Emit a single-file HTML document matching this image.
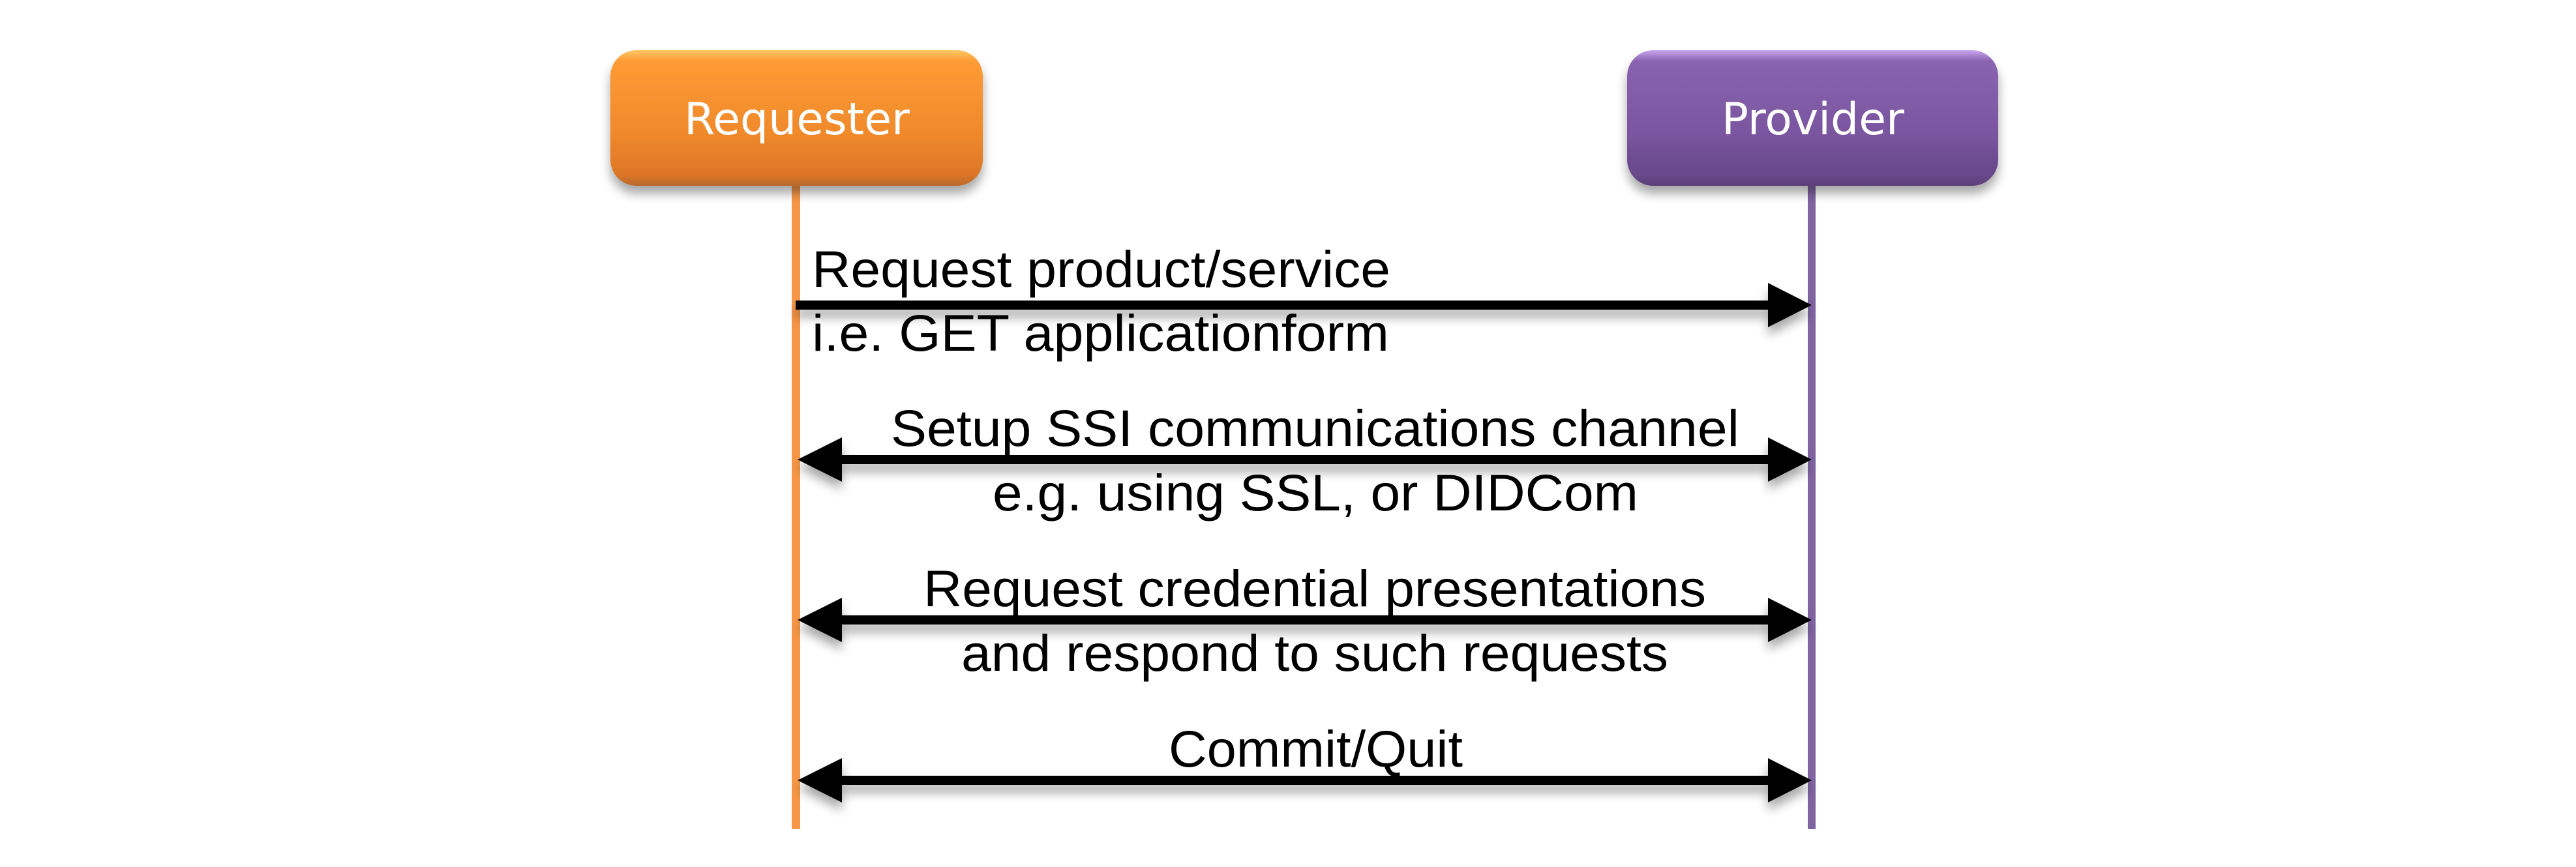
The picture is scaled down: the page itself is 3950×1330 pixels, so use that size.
<!DOCTYPE html>
<html><head><meta charset="utf-8"><style>html,body{margin:0;padding:0;background:#fff}</style></head>
<body>
<svg width="3950" height="1325" viewBox="0 0 3950 1325" xmlns="http://www.w3.org/2000/svg">
<defs>
<linearGradient id="og" x1="0" y1="0" x2="0" y2="1">
<stop offset="0" stop-color="#fbc765"/><stop offset="0.08" stop-color="#fd9b34"/><stop offset="0.6" stop-color="#f08a2c"/><stop offset="0.92" stop-color="#dc7626"/><stop offset="1" stop-color="#b86a30"/></linearGradient>
<linearGradient id="pg" x1="0" y1="0" x2="0" y2="1">
<stop offset="0" stop-color="#c9a6f0"/><stop offset="0.08" stop-color="#8964b0"/><stop offset="0.6" stop-color="#7a569f"/><stop offset="0.92" stop-color="#68488a"/><stop offset="1" stop-color="#5a3f78"/></linearGradient>
<filter id="sh" x="-10%" y="-10%" width="120%" height="140%"><feGaussianBlur in="SourceAlpha" stdDeviation="8"/><feOffset dy="12"/><feComponentTransfer><feFuncA type="linear" slope="0.35"/></feComponentTransfer><feMerge><feMergeNode/><feMergeNode in="SourceGraphic"/></feMerge></filter>
</defs>
<rect x="1214" y="285" width="13" height="987" fill="#f79646"/>
<rect x="2772" y="285" width="12" height="987" fill="#8064a2"/>
<rect x="936" y="77" width="571" height="208" rx="40" fill="url(#og)" filter="url(#sh)"/>
<rect x="2495" y="77" width="569" height="208" rx="40" fill="url(#pg)" filter="url(#sh)"/>
<g font-family="'DejaVu Sans', 'Liberation Sans', sans-serif" font-size="68" fill="#fff" text-anchor="middle">
<text x="1222" y="206">Requester</text>
<text x="2780" y="206">Provider</text>
</g>
<g fill="#000" filter="url(#sh)">
<rect x="1220" y="461" width="1500" height="14"/>
<polygon points="2711,434 2778,468 2711,502"/>
<rect x="1280" y="698" width="1440" height="14"/>
<polygon points="1291,671 1223,705 1291,739"/><polygon points="2711,671 2778,705 2711,739"/>
<rect x="1280" y="944" width="1440" height="14"/>
<polygon points="1291,917 1223,951 1291,985"/><polygon points="2711,917 2778,951 2711,985"/>
<rect x="1280" y="1190" width="1440" height="14"/>
<polygon points="1291,1163 1223,1197 1291,1231"/><polygon points="2711,1163 2778,1197 2711,1231"/>
</g>
<g font-family="'Liberation Sans', Arial, sans-serif" font-size="79" fill="#000" lengthAdjust="spacingAndGlyphs">
<text x="1245" y="440" textLength="887" lengthAdjust="spacingAndGlyphs">Request product/service</text>
<text x="1245" y="538" textLength="885" lengthAdjust="spacingAndGlyphs">i.e. GET applicationform</text>
<text x="1366" y="684" textLength="1301" lengthAdjust="spacingAndGlyphs">Setup SSI communications channel</text>
<text x="1522" y="783" textLength="990" lengthAdjust="spacingAndGlyphs">e.g. using SSL, or DIDCom</text>
<text x="1416" y="930" textLength="1200" lengthAdjust="spacingAndGlyphs">Request credential presentations</text>
<text x="1474" y="1029" textLength="1084" lengthAdjust="spacingAndGlyphs">and respond to such requests</text>
<text x="1792" y="1176" textLength="451" lengthAdjust="spacingAndGlyphs">Commit/Quit</text>
</g>
</svg>
</body></html>
